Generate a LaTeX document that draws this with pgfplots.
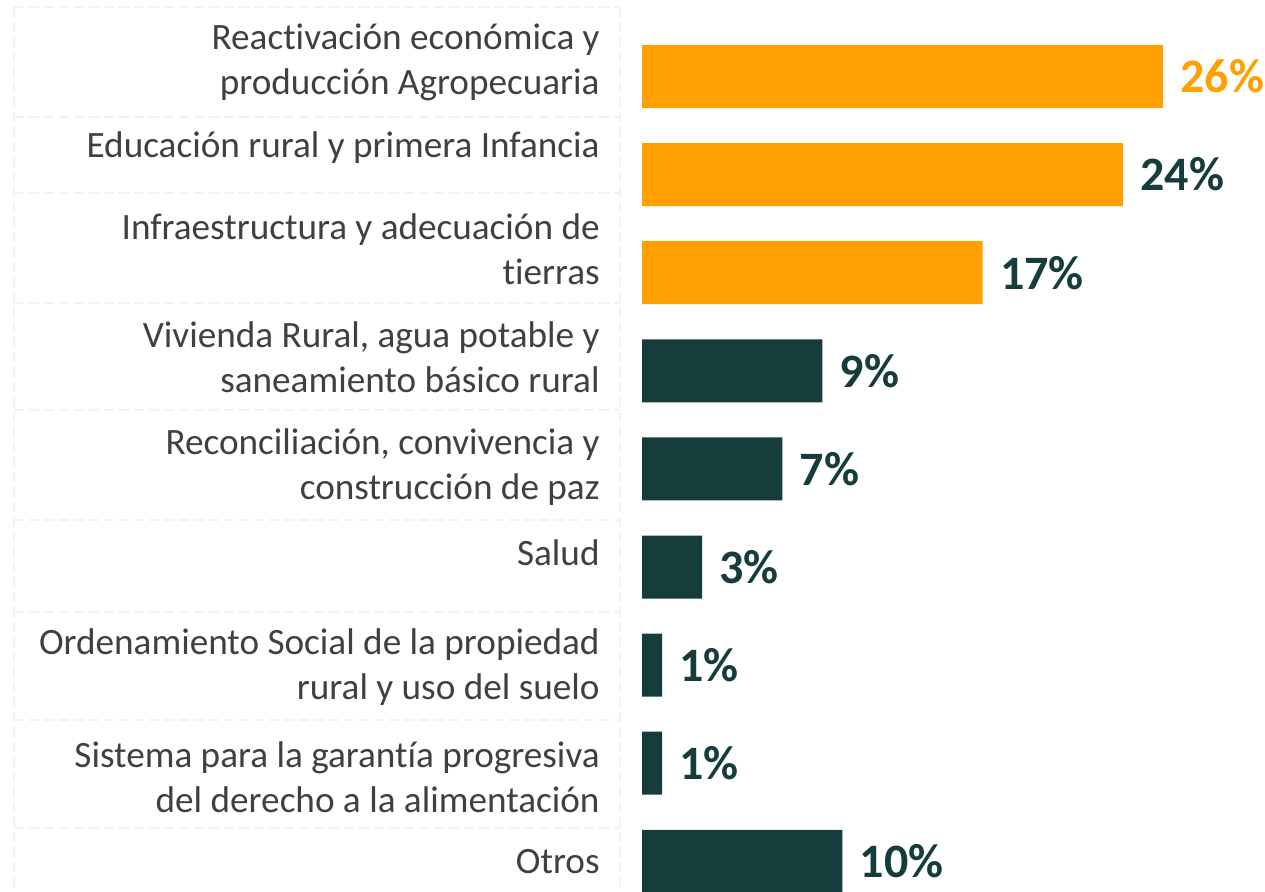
\documentclass[border=0pt]{standalone}
\usepackage{fontspec}
\setmainfont{Carlito}[Ligatures=NoCommon]
\usepackage{pgfplots}
\pgfplotsset{compat=1.18}
\definecolor{barorange}{HTML}{FF9F00}
\definecolor{barteal}{HTML}{163C3C}
\definecolor{labelgray}{HTML}{404040}
\definecolor{gridgray}{HTML}{F2F2F2}
\begin{document}
\begin{tikzpicture}[x=0.5pt,y=0.5pt]
\useasboundingbox (0,0) rectangle (1265,892);
% faint dashed table borders behind the labels
\begin{scope}[gridgray, line width=1pt, dash pattern=on 5pt off 2.5pt]
\foreach \yy in {7,117,193,303,410,520,612,720,828}{
  \draw (14,892-\yy) -- (620,892-\yy);
}
\draw (14,885) -- (14,0);
\draw (620,885) -- (620,0);
\end{scope}
\begin{axis}[
  at={(321pt,0pt)}, anchor=south west,
  scale only axis,
  width=311.5pt, height=446pt,
  xmin=0, xmax=31.09,
  ymin=-0.78, ymax=8.313,
  y dir=reverse,
  hide axis,
  clip=true,
  xbar, bar width=31.5pt, bar shift=0pt,
  nodes near coords={\pgfmathprintnumber[assume math mode=true]{\pgfplotspointmeta}\%},
  point meta=x,
  every node near coord/.append style={font=\fontsize{24}{28}\selectfont\bfseries, inner sep=0pt, xshift=8.5pt, anchor=west},
]
\addplot[fill=barorange, draw=none, every node near coord/.append style={color=barorange}] coordinates {(26,0)};
\addplot[fill=barorange, draw=none, every node near coord/.append style={color=barteal}] coordinates {(24,1) (17,2)};
\addplot[fill=barteal, draw=none, every node near coord/.append style={color=barteal}] coordinates {(9,3) (7,4) (3,5) (1,6) (1,7) (10,8)};
\end{axis}
% category labels
\begin{scope}[every node/.style={anchor=east, align=right, text=labelgray, inner sep=0pt, font=\fontsize{18.6}{22.5}\selectfont}]
\node at (600,892-62.5) {Reactivación económica y\\producción Agropecuaria};
\node at (600,892-148) {Educación rural y primera Infancia};
\node at (600,892-249.5) {Infraestructura y adecuación de\\tierras};
\node at (600,892-357.5) {Vivienda Rural, agua potable y\\saneamiento básico rural};
\node at (600,892-467.5) {Reconciliación, convivencia y\\construcción de paz};
\node at (600,892-553) {Salud};
\node at (600,892-667.5) {Ordenamiento Social de la propiedad\\rural y uso del suelo};
\node at (600,892-777.5) {Sistema para la garantía progresiva\\del derecho a la alimentación};
\node at (600,892-862) {Otros};
\end{scope}
\end{tikzpicture}
\end{document}
